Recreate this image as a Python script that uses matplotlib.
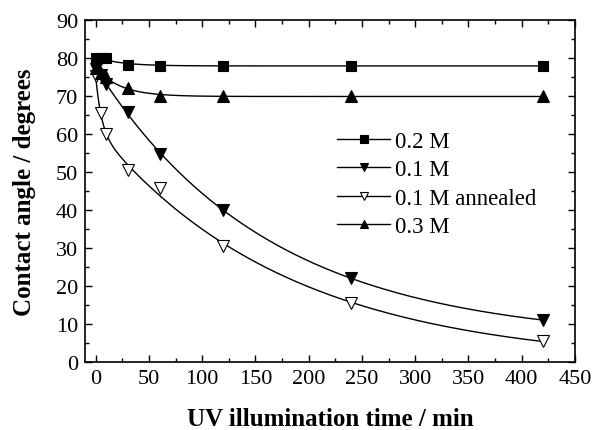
import numpy as np
import matplotlib
matplotlib.use("Agg")
import matplotlib.pyplot as plt
from matplotlib.ticker import MultipleLocator

# data
t = [0, 5, 10, 30, 60, 120, 240, 420]
m02 = [80, 80, 80, 78.2, 78, 78, 78, 78]
m01 = [77, 75.5, 73.2, 65.8, 54.7, 40, 22, 11]
m01_ann = [75.3, 65.5, 60, 50.5, 45.8, 30.5, 15.5, 5.5]
m03 = [77.5, 76, 75, 72, 70, 70, 70, 70]


def fit_curve(x, y):
    """least-squares fit y = a + b exp(-x/c1) + d exp(-x/c2), b, d >= 0"""
    x = np.asarray(x, float)
    y = np.asarray(y, float)
    best = None
    taus = np.logspace(0, 3.5, 60)
    for i, c1 in enumerate(taus):
        for c2 in taus[i:]:
            A = np.column_stack([np.ones_like(x), np.exp(-x / c1), np.exp(-x / c2)])
            coef, *_ = np.linalg.lstsq(A, y, rcond=None)
            if coef[1] < 0 or coef[2] < 0:
                continue
            sse = np.sum((A @ coef - y) ** 2)
            if best is None or sse < best[0]:
                best = (sse, coef, c1, c2)
    _, coef, c1, c2 = best
    return lambda xx: coef[0] + coef[1] * np.exp(-xx / c1) + coef[2] * np.exp(-xx / c2)


plt.rcParams["font.family"] = "Liberation Serif"

fig = plt.figure(figsize=(5.92, 4.31), dpi=100)
ax = fig.add_axes([0.1436, 0.158, 0.8277, 0.793])

tt = np.linspace(0, 420, 400)
series = [
    (m02, "0.2 M", "s", "black", 6.5),
    (m01, "0.1 M", "v", "black", 8),
    (m01_ann, "0.1 M annealed", "v", "white", 8),
    (m03, "0.3 M", "^", "black", 8),
]
for y, lab, mk, fc, ms in series:
    f = fit_curve(t, y)
    ax.plot(tt, f(tt), color="black", lw=1.0, zorder=2)
    ax.plot(t, y, ls="none", marker=mk, ms=ms, mfc=fc, mec="black", mew=0.8, zorder=3)
    ax.plot([], [], color="black", lw=1.0, marker=mk, ms=5.5, mfc=fc, mec="black",
            mew=0.8, label=lab)

ax.set_xlim(-10, 450)
ax.set_ylim(0, 90)
ax.xaxis.set_major_locator(MultipleLocator(50))
ax.xaxis.set_minor_locator(MultipleLocator(25))
ax.yaxis.set_major_locator(MultipleLocator(10))
ax.yaxis.set_minor_locator(MultipleLocator(5))
ax.tick_params(which="both", direction="in", top=True, right=True, labelsize=16, width=1)
ax.tick_params(which="major", length=5, pad=5)
ax.tick_params(which="minor", length=3)
for s in ax.spines.values():
    s.set_linewidth(1.2)

ax.set_xlabel("UV illumination time / min", fontsize=18, fontweight="bold", labelpad=14)
ax.set_ylabel("Contact angle / degrees", fontsize=18, fontweight="bold", labelpad=14)

ax.legend(loc="upper left", bbox_to_anchor=(0.515, 0.676), frameon=False, fontsize=16.5,
          handlelength=2.3, handletextpad=0.2, labelspacing=0.32, borderpad=0,
          borderaxespad=0)

fig.savefig("out.png", dpi=100)
